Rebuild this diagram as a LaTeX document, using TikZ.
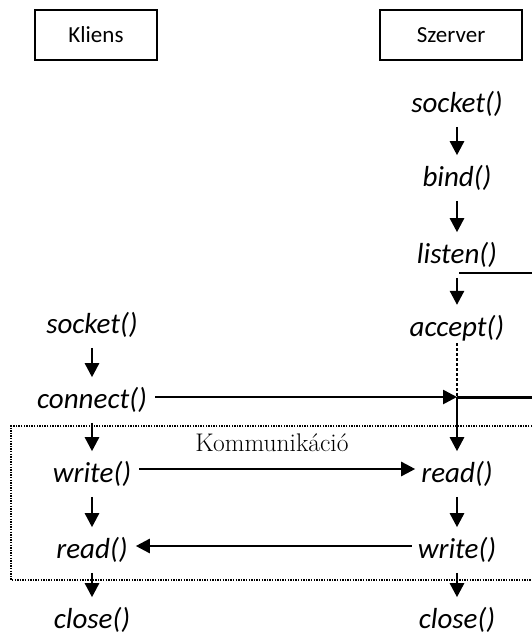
\documentclass[tikz,border=0pt]{standalone}
\usepackage{fontspec}
\newfontfamily\calib{Carlito}
\usetikzlibrary{arrows.meta}

\begin{document}
\begin{tikzpicture}[x=1pt,y=-1pt,
    fn/.style={font=\calib\itshape\fontsize{29}{33}\selectfont,inner sep=2pt},
    hdr/.style={draw,line width=1.5pt,minimum height=50pt,
      font=\calib\fontsize{23}{27}\selectfont},
    flow/.style={line width=2.6pt,-{Triangle[length=14pt,width=14pt]}},
    down/.style={flow,shorten <=8pt,shorten >=8pt}]
    \useasboundingbox (0,0) rectangle (532,637);
    \node [hdr,minimum width=122pt] (K) at (96,35) {Kliens};
    \node [hdr,minimum width=142pt] (S) at (451,35) {Szerver};
    \node [fn] (ssocket) at (457,104) {socket()};
    \node [fn] (sbind) at (457,178) {bind()};
    \node [fn] (slisten) at (457,255) {listen()};
    \node [fn] (saccept) at (457,328) {accept()};
    \node [fn] (sread) at (457,474) {read()};
    \node [fn] (swrite) at (457,550) {write()};
    \node [fn] (sclose) at (457,620) {close()};
    \node [fn] (csocket) at (92,325) {socket()};
    \node [fn] (cconnect) at (92,400) {connect()};
    \node [fn] (cwrite) at (92,474) {write()};
    \node [fn] (cread) at (92,550) {read()};
    \node [fn] (cclose) at (92,620) {close()};
    \node [font=\fontsize{25.5}{30}\selectfont] (komm) at (272,443) {Kommunikáció};
    \coordinate (lj) at (459,273);
    \coordinate (le) at (532,273);
    \coordinate (cj) at (457,397);
    \coordinate (ce) at (532,397);
    \draw [line width=1.6pt,dash pattern=on 1.4pt off 1.2pt]
      (532,426) -- (11,426) -- (11,580) -- (532,580);
    \draw [down] (ssocket) to (sbind);
    \draw [down] (sbind) to (slisten);
    \draw [down] (slisten) to (saccept);
    \draw [line width=1.6pt] (lj) to (le);
    \draw [line width=1.4pt,dash pattern=on 3pt off 2pt] (saccept) to (cj);
    \draw [flow,shorten <=6pt] (cconnect.east |- cj) to (cj);
    \draw [line width=3pt] (cj) to (ce);
    \draw [flow,shorten >=8pt] (cj) to (sread);
    \draw [down] (csocket) to (cconnect);
    \draw [down] (cconnect) to (cwrite);
    \draw [flow,shorten <=6pt,shorten >=4pt] ([yshift=5pt]cwrite.east) to ([yshift=5pt]sread.west);
    \draw [down] (cwrite) to (cread);
    \draw [down] (sread) to (swrite);
    \draw [flow,shorten <=4pt,shorten >=6pt] ([yshift=4pt]swrite.west) to ([yshift=4pt]cread.east);
    \draw [down] (cread) to (cclose);
    \draw [down] (swrite) to (sclose);
\end{tikzpicture}
\end{document}
